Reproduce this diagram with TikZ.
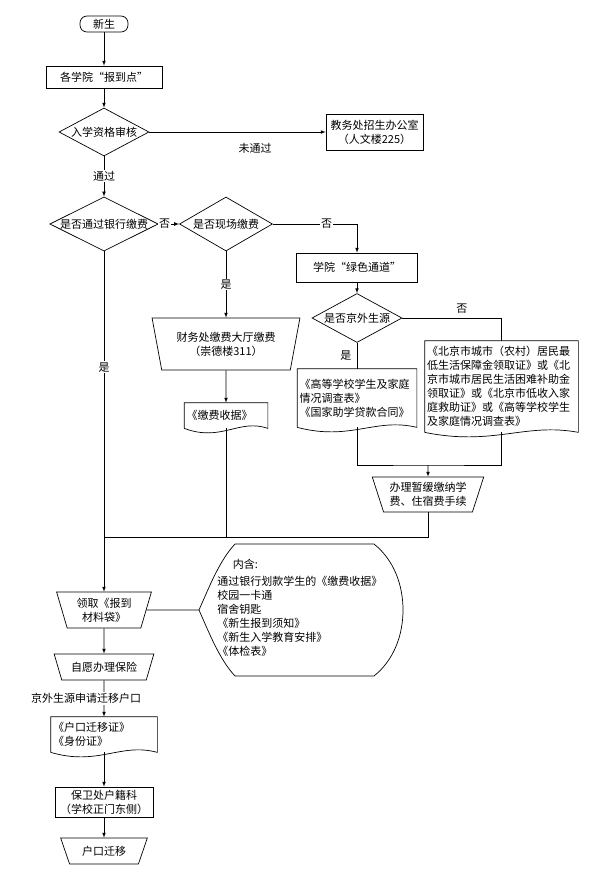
\documentclass[tikz,border=0pt]{standalone}
\usepackage{fontspec}
\setmainfont{Noto Sans CJK SC}
\usetikzlibrary{shapes.geometric}

\tikzset{
  flow/.style={draw, line width=0.7pt},
  startbox/.style={flow, rectangle, rounded corners=7pt, minimum width=48pt, minimum height=16pt, inner sep=0pt},
  procbox/.style={flow, rectangle, align=center, inner sep=0pt},
  decision/.style={flow, diamond, aspect=2, inner sep=0pt},
  manualop/.style={flow, trapezium, shape border rotate=180, trapezium stretches=true, align=center, inner sep=0pt},
  docbox/.style={rectangle, text width=#1, align=left, inner xsep=2pt, inner ysep=0pt},
  branch/.style={fill=white, inner sep=1pt},
}

% outline of a document node, wavy bottom
\newcommand\wavydoc[2]{\draw[line width=0.7pt] (#1.south west) -- (#1.north west) -- (#1.north east) -- (#1.south east) .. controls +(-0.35*#2,-10) and +(0.45*#2,14) .. (#1.south west);}

\begin{document}
\begin{tikzpicture}[x=1pt, y=-1pt, line width=0.7pt, font=\fontsize{11}{14}\selectfont]
\useasboundingbox (0,0) rectangle (591,892);

% Main column
\node[startbox] (new) at (104,24) {新生};
\node[procbox, minimum width=116pt, minimum height=22pt] (college) at (104,77) {各学院“报到点”};
\node[decision, minimum width=90pt, minimum height=48pt] (check) at (104,132) {入学资格审核};
\node[procbox, minimum width=97pt, minimum height=36pt] (office) at (374.5,132) {教务处招生办公室\\（人文楼225）};
\node[decision] (bank) at (104,224) {是否通过银行缴费};
\node[decision, minimum width=93pt, minimum height=54pt] (onsite) at (226,224) {是否现场缴费};

% Payment branches
\node[manualop, minimum width=148pt, minimum height=52pt, trapezium angle=73] (cashier) at (226,344) {财务处缴费大厅缴费\\（崇德楼311）};
\node[docbox=79pt, minimum height=25pt] (receipt) at (226,415.5) {《缴费收据》};
\node[procbox, minimum width=121pt, minimum height=29pt] (green) at (357,267.5) {学院“绿色通道”};
\node[decision, minimum width=90pt, minimum height=49pt] (beijing) at (357,318) {是否京外生源};
\node[docbox=115pt, minimum height=58pt] (survey) at (357,398) {《高等学校学生及家庭\\情况调查表》\\《国家助学贷款合同》};
\node[docbox=149pt, minimum height=91pt] (certs) at (501.5,386.5) {《北京市城市（农村）居民最\\低生活保障金领取证》或《北\\京市城市居民生活困难补助金\\领取证》或《北京市低收入家\\庭救助证》或《高等学校学生\\及家庭情况调查表》};
\node[manualop, minimum width=112pt, minimum height=35pt, trapezium angle=68] (defer) at (428,494.5) {办理暂缓缴纳学\\费、住宿费手续};
\coordinate (merge) at (428,465);
\coordinate (join) at (104,537);

% Lower column
\node[manualop, minimum width=95pt, minimum height=36pt, trapezium angle=72] (pickup) at (104,610) {领取《报到\\材料袋》};
\node[manualop, minimum width=100pt, minimum height=26pt, trapezium angle=60] (insure) at (104,667) {自愿办理保险};
\node[docbox=102pt, minimum height=35pt] (hukou) at (104,734.5) {《户口迁移证》\\《身份证》};
\node[procbox, minimum width=98pt, minimum height=30pt] (security) at (104,802) {保卫处户籍科\\（学校正门东侧）};
\node[manualop, minimum width=87pt, minimum height=26pt, trapezium angle=61] (move) at (104,851) {户口迁移};

% Documents
\wavydoc{receipt}{83}
\wavydoc{survey}{119}
\wavydoc{certs}{153}
\wavydoc{hukou}{106}

% Contents callout
\coordinate (tip) at (199,610);
\draw (tip) .. controls (210,585) and (220,560) .. (235,544) -- (374,544) .. controls (394,560) and (403,585) .. (403,610) .. controls (403,635) and (394,660) .. (374,676) -- (235,676) .. controls (220,660) and (210,635) .. (tip);
\node[align=left, inner sep=0pt, anchor=west] (contents) at (217,608) {\hspace{1.4em}内含:\\[3pt]通过银行划款学生的《缴费收据》\\校园一卡通\\宿舍钥匙\\《新生报到须知》\\《新生入学教育安排》\\《体检表》};

% Connectors
\draw[-latex] (new) -- (college);
\draw[-latex] (college) -- (check);
\draw[-latex] (check) -- node[pos=0.6, below=8pt] {未通过} (office);
\draw[-latex] (check) -- node[branch] {通过} (bank);
\draw[-latex] (bank) -- node[branch, pos=0.3] {否} (onsite);
\draw[-latex] (onsite) -| node[branch, pos=0.32] {否} (green);
\draw[-latex] (onsite) -- node[branch] {是} (cashier);
\draw[-latex] (cashier) -- (receipt);
\draw[-latex] (green) -- (beijing);
\draw (beijing) -| node[pos=0.3, above=1pt] {否} (certs);
\draw (beijing) -- node[left=2pt] {是} (survey);
\draw (survey.south) |- (merge) -| (certs.south);
\draw[-latex] (merge) -- (defer);
\draw (defer) |- (join);
\draw (receipt.south) -- (receipt.south |- join);
\draw[-latex] (bank) -- node[branch, pos=0.34] {是} (pickup);
\draw (pickup) -- (tip);
\draw[-latex] (pickup) -- (insure);
\draw[-latex] (insure) -- node[branch, xshift=-18pt] {京外生源申请迁移户口} (hukou);
\draw[-latex] (hukou.south) -- (security);
\draw[-latex] (security) -- (move);

\end{tikzpicture}
\end{document}
